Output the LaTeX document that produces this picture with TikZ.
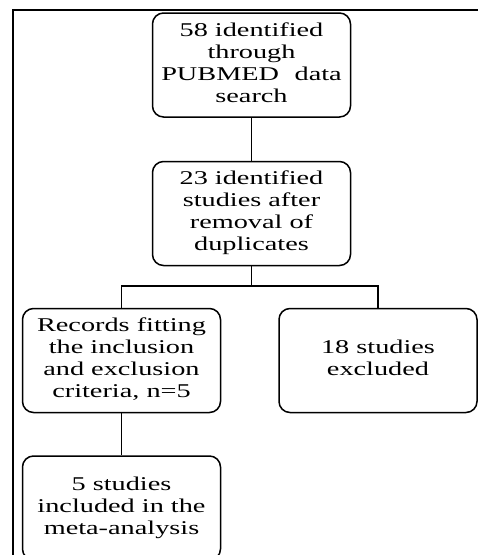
\documentclass[tikz,border=0pt]{standalone}
\usepackage{fontspec}
\usepackage{graphicx}
\setmainfont{Liberation Serif}
\usepackage{tikz}

\newcommand{\widetext}[1]{\scalebox{1.45}[1]{\fontsize{19.5}{22}\selectfont\begin{tabular}{@{}c@{}}#1\end{tabular}}}

\begin{document}
\begin{tikzpicture}[
    x=1pt, y=-1pt,
    stage/.style={draw, line width=1.5pt, rounded corners=11pt, inner sep=0pt,
        minimum width=198pt, minimum height=104pt},
    link/.style={line width=1.5pt}
]
    \useasboundingbox (0,0) rectangle (478,555);
    % Frame
    \draw[line width=2pt] (13,565) -- (13,10) -- (490,10);

    % Nodes
    \node[stage] (1) at (251.5,65) {\widetext{58 identified\\through\\PUBMED\hspace{0.3em} data\\search}};
    \node[stage] (2) at (251.5,213.5) {\widetext{23 identified\\studies after\\removal of\\duplicates}};
    \node[stage] (3) at (121.5,360.5) {\widetext{Records fitting\\the inclusion\\and exclusion\\criteria, n=5}};
    \node[stage] (4) at (378,360.5) {\widetext{18 studies\\excluded}};
    \node[stage] (5) at (121.5,508) {\widetext{5 studies\\included in the\\meta-analysis}};
    \coordinate (split) at (251.5,286);

    % Edges
    \draw[link] (1) -- (2);
    \draw[link] (2) -- (split);
    \draw[link] (split) -| (3);
    \draw[link] (split) -| (4);
    \draw[link] (3) -- (5);
\end{tikzpicture}
\end{document}
